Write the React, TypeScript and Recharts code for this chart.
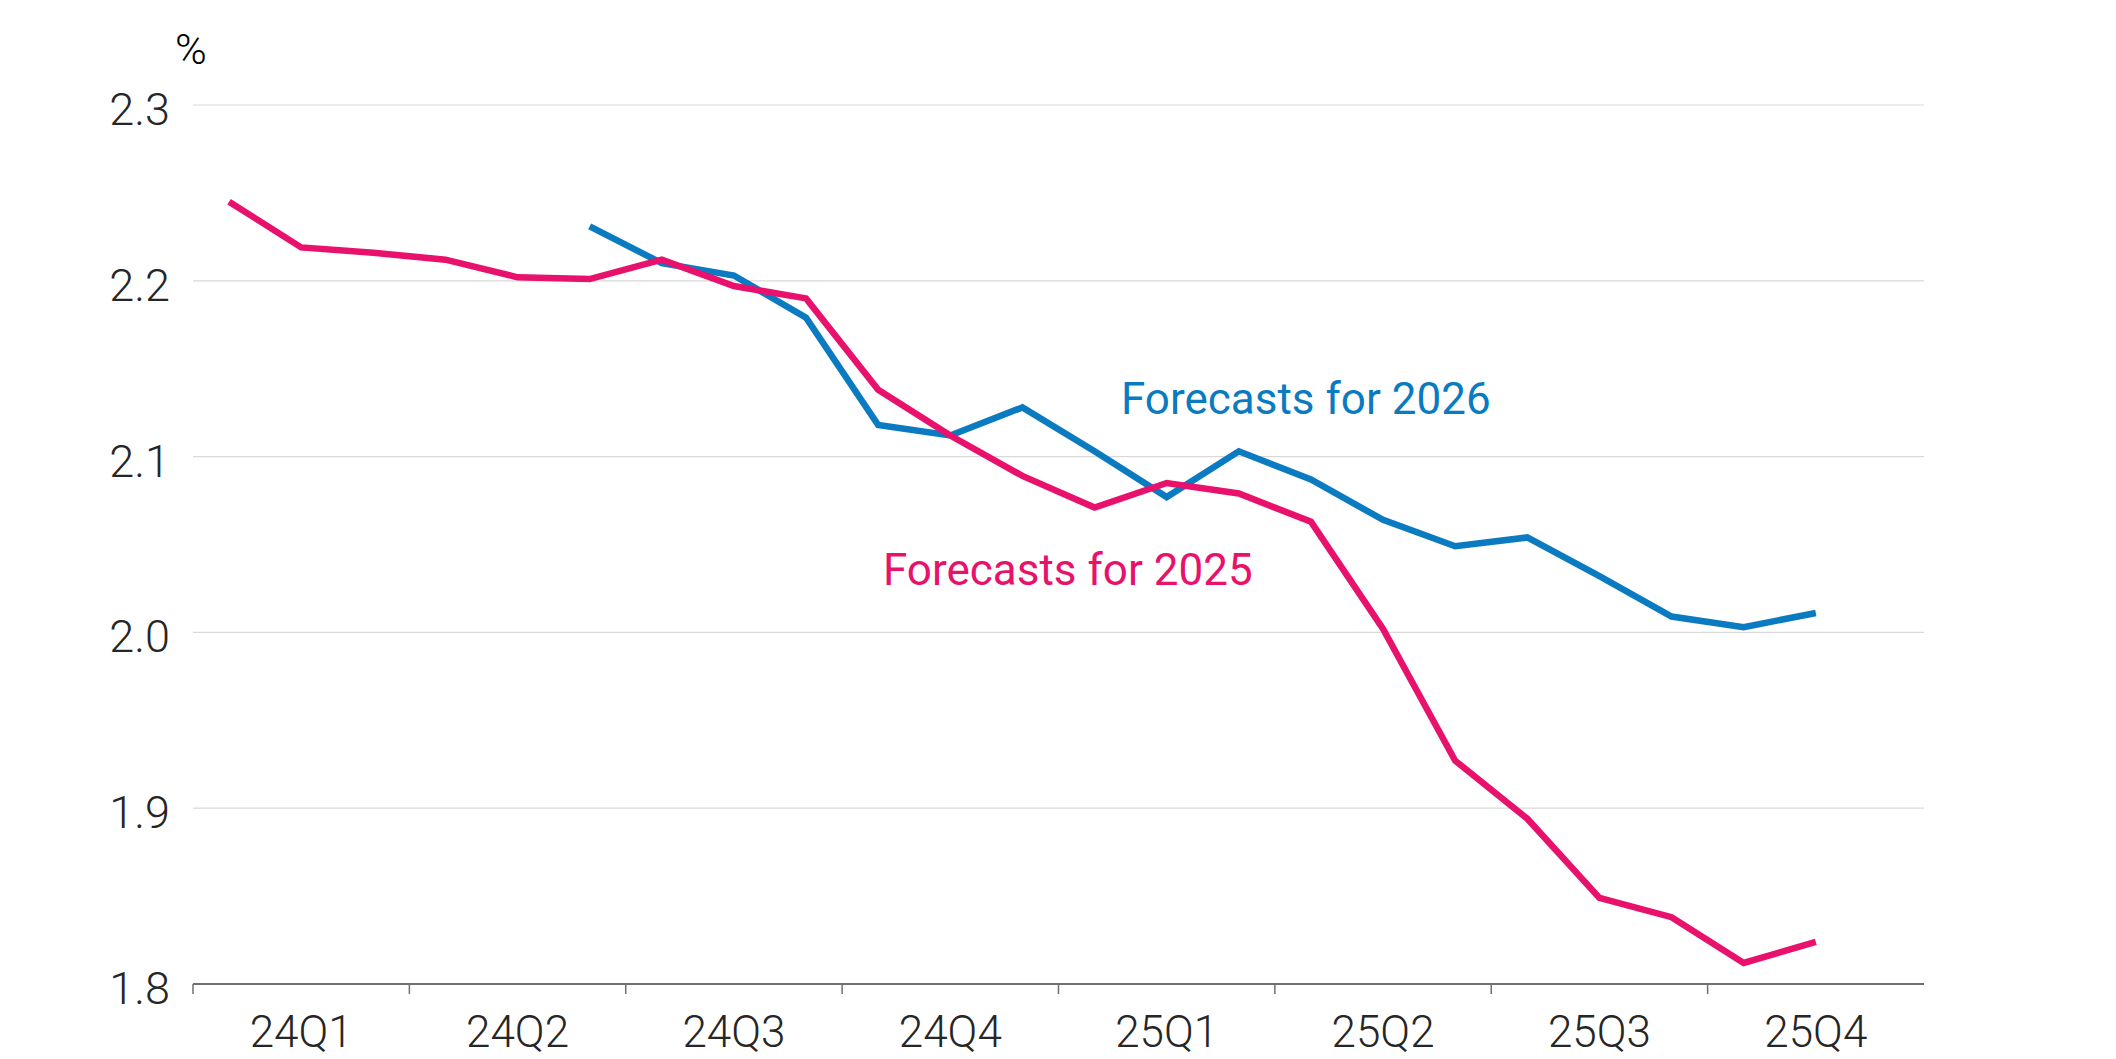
import { LineChart, Line, XAxis, YAxis, CartesianGrid } from 'recharts'

const months = [
  '2024-01', '2024-02', '2024-03', '2024-04', '2024-05', '2024-06',
  '2024-07', '2024-08', '2024-09', '2024-10', '2024-11', '2024-12',
  '2025-01', '2025-02', '2025-03', '2025-04', '2025-05', '2025-06',
  '2025-07', '2025-08', '2025-09', '2025-10', '2025-11', '2025-12',
]

const quarterLabels = ['24Q1', '24Q2', '24Q3', '24Q4', '25Q1', '25Q2', '25Q3', '25Q4']

// monthly survey readings, %
const forecasts2025 = [
  2.245, 2.219, 2.216, 2.212, 2.202, 2.201,
  2.212, 2.197, 2.190, 2.138, 2.112, 2.089,
  2.071, 2.085, 2.079, 2.063, 2.002, 1.927,
  1.894, 1.849, 1.838, 1.812, 1.824, null,
]

const forecasts2026 = [
  null, null, null, null, null, 2.231,
  2.210, 2.203, 2.179, 2.118, 2.112, 2.128,
  2.103, 2.077, 2.103, 2.087, 2.064, 2.049,
  2.054, 2.032, 2.009, 2.003, 2.011, null,
]

const yTicks = [1.8, 1.9, 2.0, 2.1, 2.2, 2.3]

const PINK = '#e8116b'
const BLUE = '#0a7bc1'
const FONT = 'Roboto, sans-serif'

const data = months.map((m, i) => ({
  month: m,
  x: i + 0.5,
  f2025: forecasts2025[i],
  f2026: forecasts2026[i],
}))

// quarter boundaries get a tick mark, quarter middles get the label
const xTicks = quarterLabels.flatMap((_, q) => [q * 3, q * 3 + 1.5])

function QuarterTick({ x, y, payload }: any) {
  const v = payload.value
  if (v % 3 === 0) {
    return <line x1={x} x2={x} y1={y} y2={y + 10} stroke="#707070" strokeWidth={1.5} />
  }
  return (
    <text x={x} y={y + 63} textAnchor="middle" fill="#262626"
      style={{ fontFamily: FONT, fontSize: 44, fontWeight: 300 }}>
      {quarterLabels[Math.floor(v / 3)]}
    </text>
  )
}

function ValueTick({ x, y, payload }: any) {
  return (
    <text x={x} y={y + 20} textAnchor="end" fill="#262626"
      style={{ fontFamily: FONT, fontSize: 45, fontWeight: 300 }}>
      {Number(payload.value).toFixed(1)}
    </text>
  )
}

export default function App() {
  return (
    <div style={{ position: 'absolute', left: 0, top: 0, width: 2116, height: 1059, background: '#fff' }}>
      <LineChart width={2116} height={1059} data={data}
        margin={{ top: 105, right: 192, bottom: 0, left: 0 }}>
        <CartesianGrid vertical={false} stroke="#d9d9d9" strokeWidth={1.2} />
        <XAxis dataKey="x" type="number" domain={[0, 24]} ticks={xTicks} interval={0}
          height={75} tickSize={0} tickMargin={0} tickLine={false}
          axisLine={{ stroke: '#707070', strokeWidth: 2 }} tick={<QuarterTick />} />
        <YAxis type="number" domain={[1.8, 2.3]} ticks={yTicks} interval={0} width={193}
          tickSize={0} tickMargin={23} axisLine={false} tickLine={false} tick={<ValueTick />} />
        <Line type="linear" dataKey="f2026" stroke={BLUE} strokeWidth={6.5} dot={false}
          activeDot={false} isAnimationActive={false} />
        <Line type="linear" dataKey="f2025" stroke={PINK} strokeWidth={6.5} dot={false}
          activeDot={false} isAnimationActive={false} />
        <text x={175} y={64} fill="#000" style={{ fontFamily: FONT, fontSize: 43, fontWeight: 300 }}>%</text>
        <text x={1121} y={414} fill={BLUE} style={{ fontFamily: FONT, fontSize: 44 }}>Forecasts for 2026</text>
        <text x={883} y={585} fill={PINK} style={{ fontFamily: FONT, fontSize: 44 }}>Forecasts for 2025</text>
      </LineChart>
    </div>
  )
}
